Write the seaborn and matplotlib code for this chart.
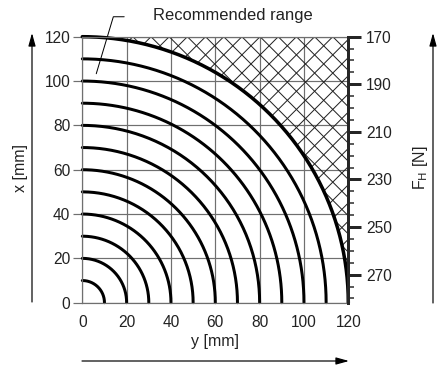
import numpy as np
import pandas as pd
import matplotlib
matplotlib.use("Agg")
import matplotlib.pyplot as plt
from matplotlib.patches import Polygon, FancyArrowPatch
from matplotlib.ticker import MultipleLocator
import seaborn as sns

# radii of the curves [mm]
radii = [10, 20, 30, 40, 50, 60, 70, 80, 90, 100, 110, 120]
mm_ticks = [0, 20, 40, 60, 80, 100, 120]
force_ticks = [170, 190, 210, 230, 250, 270]
force_top, force_bottom = 170, 281.8

sns.set_style("white")
plt.rcParams["font.family"] = ["Liberation Sans", "DejaVu Sans"]

# build long table of arc points
theta = np.linspace(0, np.pi / 2, 200)
rows = []
for r in radii:
    rows.append(pd.DataFrame({"r": r, "y": r * np.cos(theta), "x": r * np.sin(theta)}))
df = pd.concat(rows, ignore_index=True)

fig = plt.figure(figsize=(437 / 72, 368 / 72), dpi=72)
ax = fig.add_axes([82.3 / 437, (368 - 302.7) / 368, 266 / 437, 266 / 368])

grey = "#6f6f6f"
ax.set_xlim(0, 120)
ax.set_ylim(0, 120)
ax.set_xticks(mm_ticks)
ax.set_yticks(mm_ticks)
ax.grid(True, color=grey, lw=1.2)
ax.set_axisbelow(True)

# cross-hatched area outside the largest radius
r_max = radii[-1]
hx = np.concatenate([r_max * np.cos(theta), [r_max]])
hy = np.concatenate([r_max * np.sin(theta), [r_max]])
clip = Polygon(np.column_stack([hx, hy]), closed=True, transform=ax.transData,
               facecolor="none", edgecolor="none")
ax.add_patch(clip)
step = 8.2
for c in np.arange(-39.8 - 20 * step, 120, step):
    ln, = ax.plot([0, 120], [0 - c, 120 - c], color="#222222", lw=1)
    ln.set_clip_path(clip)
for c in np.arange(200.2 - 20 * step, 260, step):
    ln, = ax.plot([0, 120], [c, c - 120], color="#222222", lw=1)
    ln.set_clip_path(clip)

sns.lineplot(data=df, x="y", y="x", units="r", estimator=None, sort=False,
             color="black", lw=3, ax=ax, clip_on=False)
ax.lines[-1].set_linewidth(3.5)

for s in ["left", "top", "bottom"]:
    ax.spines[s].set_color(grey)
    ax.spines[s].set_linewidth(1.2)
ax.spines["right"].set_visible(False)
ax.tick_params(axis="both", length=9, width=1.2, color=grey, labelsize=15.5,
               labelcolor="#222222", pad=3)
ax.set_xlabel("y [mm]", fontsize=16, color="#222222", labelpad=4)
ax.set_ylabel("")

# right force scale
ax2 = ax.twinx()
ax2.set_ylim(force_bottom, force_top)
ax2.set_yticks(force_ticks)
ax2.yaxis.set_minor_locator(MultipleLocator(5))
for s in ["left", "top", "bottom"]:
    ax2.spines[s].set_visible(False)
ax2.spines["right"].set_linewidth(3)
ax2.tick_params(axis="y", which="major", length=13, width=3, labelsize=15.5,
                labelcolor="#222222", pad=5)
ax2.tick_params(axis="y", which="minor", length=6, width=1.5)

# leader to annotation
ax.plot([18.9, 14.0, 6.3], [129.0, 129.0, 103.3], color="black", lw=1, clip_on=False)
ax.text(32.0, 129.6, "Recommended range", fontsize=16.5, color="#222222",
        ha="left", va="center", clip_on=False)

# axis labels
fig.text(20 / 437, 1 - 168 / 368, "x [mm]", rotation=90, fontsize=16,
         color="#222222", ha="center", va="center")
fig.text(420 / 437, 1 - 168 / 368, r"F$_\mathrm{H}$ [N]", rotation=90, fontsize=16,
         color="#222222", ha="center", va="center")

# direction arrows
arrow = dict(arrowstyle="-|>,head_length=0.9,head_width=0.25", color="black", lw=1.2,
             shrinkA=0, shrinkB=0, mutation_scale=12)
fig.add_artist(FancyArrowPatch((32 / 437, 1 - 302 / 368), (32 / 437, 1 - 33 / 368),
                               transform=fig.transFigure, **arrow))
fig.add_artist(FancyArrowPatch((82 / 437, 1 - 361 / 368), (349 / 437, 1 - 361 / 368),
                               transform=fig.transFigure, **arrow))
fig.add_artist(FancyArrowPatch((433 / 437, 1 - 303 / 368), (433 / 437, 1 - 33 / 368),
                               transform=fig.transFigure, **arrow))

fig.savefig("out.png", dpi=72)
